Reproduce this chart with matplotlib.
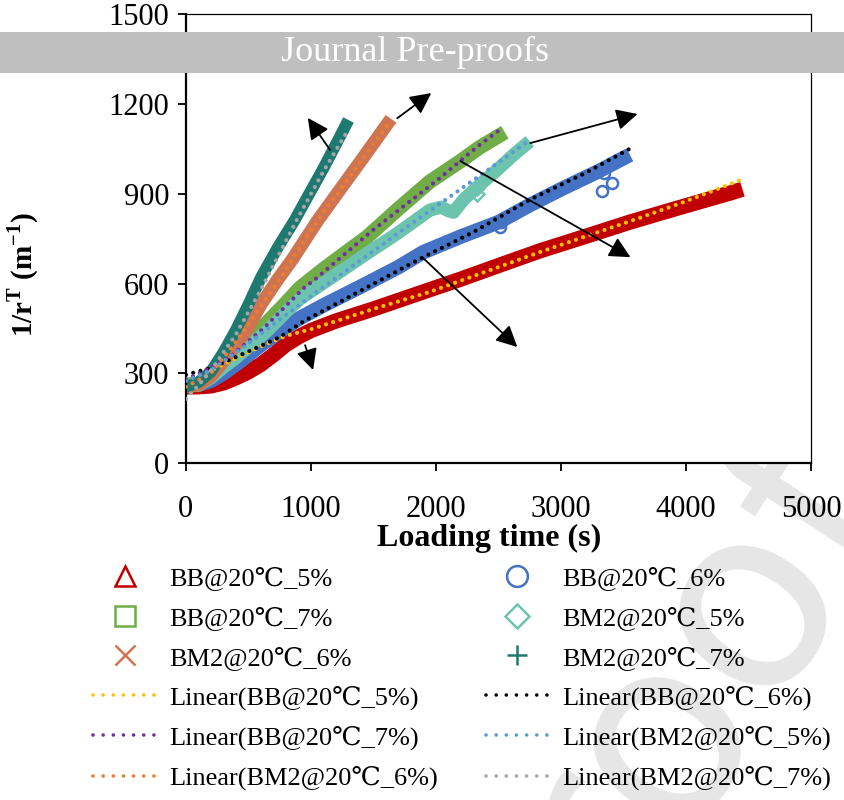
import numpy as np
import matplotlib
matplotlib.use('Agg')
import matplotlib.pyplot as plt
from matplotlib.lines import Line2D
from matplotlib.patches import Rectangle

plt.rcParams['font.family'] = ['Liberation Serif', 'DejaVu Serif']
plt.rcParams['mathtext.fontset'] = 'custom'
plt.rcParams['mathtext.rm'] = 'Liberation Serif'
plt.rcParams['mathtext.bf'] = 'Liberation Serif:bold'

# measured series (loading time s, 1/r^T m^-1)
bb5_t = [0, 100, 200, 300, 400, 500, 600, 700, 800, 900, 1000, 1200, 1500, 1870, 2200, 2500, 2830, 3200, 3550, 3900, 4350, 4450]
bb5_v = [255, 255, 258, 268, 285, 305, 330, 362, 396, 422, 443, 475, 515, 568, 615, 660, 709, 758, 805, 848, 902, 915]

bb6_t = [0, 100, 200, 300, 400, 500, 600, 750, 900, 1100, 1400, 1700, 1900, 2200, 2500, 2750, 3000, 3300, 3550]
bb6_v = [262, 262, 275, 300, 330, 362, 395, 440, 482, 527, 590, 655, 705, 757, 805, 862, 915, 975, 1030]
bb6_out_t = [2510, 2520, 3330, 3340, 3410]
bb6_out_v = [790, 805, 909, 969, 935]

bb7_t = [0, 100, 200, 300, 400, 500, 650, 800, 910, 1100, 1300, 1450, 1700, 1950, 2200, 2350, 2550]
bb7_v = [260, 262, 290, 330, 368, 405, 470, 535, 585, 648, 710, 756, 850, 940, 1010, 1055, 1105]

bm5_t = [0, 100, 200, 300, 400, 500, 650, 800, 910, 1200, 1450, 1700, 1950, 2040, 2100, 2140, 2220, 2350, 2490, 2620, 2750]
bm5_v = [258, 262, 285, 320, 352, 388, 442, 505, 548, 630, 701, 770, 845, 855, 843, 838, 880, 930, 980, 1030, 1075]
bm5_out_t = [2325, 2330]
bm5_out_v = [900, 918]

bm6_t = [0, 100, 200, 300, 400, 500, 600, 730, 850, 1050, 1200, 1400, 1640]
bm6_v = [255, 262, 290, 340, 395, 455, 530, 611, 680, 808, 895, 1010, 1150]

bm7_t = [0, 100, 200, 300, 400, 500, 600, 730, 870, 1000, 1100, 1200, 1300]
bm7_v = [255, 270, 305, 370, 445, 530, 620, 717, 812, 910, 985, 1065, 1146]

# trend lines
fit_bb5_t = [0, 200, 400, 620, 800, 1020, 1500, 1950, 2500, 2830, 3200, 3600, 4000, 4450]
fit_bb5_v = [280, 310, 350, 394, 425, 450, 515, 572, 655, 705, 758, 815, 875, 948]
fit_bb6_t = [0, 220, 490, 750, 950, 1290, 1870, 2300, 2750, 3200, 3550]
fit_bb6_v = [295, 321, 371, 421, 476, 552, 682, 772, 880, 970, 1050]
fit_bb7_t = [0, 110, 350, 620, 940, 1050, 1500, 2010, 2330, 2500]
fit_bb7_v = [280, 300, 355, 450, 584, 620, 780, 945, 1057, 1110]
fit_bm5_t = [0, 200, 500, 990, 1710, 2060, 2400, 2730]
fit_bm5_v = [275, 310, 400, 555, 772, 875, 975, 1073]
fit_bm6_t = [0, 200, 400, 600, 750, 1060, 1630]
fit_bm6_v = [255, 300, 405, 525, 615, 815, 1140]
fit_bm7_t = [0, 100, 200, 400, 600, 890, 1100, 1300]
fit_bm7_v = [215, 260, 310, 430, 580, 815, 975, 1115]

# arrows: (start t, start v, tip t, tip v)
arrows = [
    (1153, 1046, 975, 1153),
    (1690, 1152, 1962, 1236),
    (2754, 1069, 3611, 1166),
    (2194, 1009, 3555, 688),
    (1897, 685, 2650, 388),
    (953, 394, 1017, 311),
]

names = ['BB@20℃_5%', 'BB@20℃_6%', 'BB@20℃_7%', 'BM2@20℃_5%', 'BM2@20℃_6%', 'BM2@20℃_7%']
colors = ['#C00000', '#4472C4', '#70AD47', '#6CC4AE', '#CF7451', '#1E7A70']
markers = ['^', 'o', 's', 'D', 'x', '+']
band_lw = [11, 10.5, 10.5, 9.5, 9.5, 8.5]
fit_colors = ['#FFC000', '#000000', '#7030A0', '#5B9BD5', '#ED7D31', '#A5A5A5']

series = [(bb5_t, bb5_v), (bb6_t, bb6_v), (bb7_t, bb7_v), (bm5_t, bm5_v), (bm6_t, bm6_v), (bm7_t, bm7_v)]
fits = [(fit_bb5_t, fit_bb5_v), (fit_bb6_t, fit_bb6_v), (fit_bb7_t, fit_bb7_v),
        (fit_bm5_t, fit_bm5_v), (fit_bm6_t, fit_bm6_v), (fit_bm7_t, fit_bm7_v)]

fig = plt.figure(figsize=(8.45, 8.0), dpi=100)
ax = fig.add_axes([0.220, 0.421, 0.740, 0.5615])

for (tt, vv), c, w in zip(series, colors, band_lw):
    ax.plot(tt, vv, color=c, lw=w, solid_capstyle='butt', solid_joinstyle='round', zorder=2)

ax.plot(bb6_out_t, bb6_out_v, ls='none', marker='o', ms=8, mfc='none', mec=colors[1], mew=1.8, zorder=2)
ax.plot(bm5_out_t, bm5_out_v, ls='none', marker='D', ms=7, mfc='none', mec=colors[3], mew=1.8, zorder=2)

dot = (0, (0.01, 1.8))
for (tt, vv), c in zip(fits, fit_colors):
    ax.plot(tt, vv, color=c, lw=3.0, ls=dot, dash_capstyle='round', zorder=3)

for t0, v0, t1, v1 in arrows:
    ax.annotate('', xy=(t1, v1), xytext=(t0, v0),
                arrowprops=dict(arrowstyle='-|>', color='k', lw=1.3, mutation_scale=32,
                                shrinkA=0, shrinkB=0), zorder=4)

ax.set_xlim(0, 5000)
ax.set_ylim(0, 1500)
ax.set_xticks(np.arange(0, 5001, 1000))
ax.set_yticks(np.arange(0, 1501, 300))
ax.tick_params(axis='both', direction='out', length=6, width=1.3, labelsize=22, pad=6)
ax.tick_params(axis='x', pad=17)
for s in ['left', 'bottom']:
    ax.spines[s].set_linewidth(1.6)
for s in ['top', 'right']:
    ax.spines[s].set_linewidth(0.9)

ax.set_xlabel('Loading time (s)', fontsize=23, fontweight='bold', labelpad=1.5)
ax.xaxis.set_label_coords(0.485, -0.135)
ax.set_ylabel(r'1/r$^{\mathbf{T}}$ (m$^{\mathbf{-1}}$)', fontsize=21, fontweight='bold')
ax.yaxis.set_label_coords(-0.232, 0.42)

# legend, filled column by column
marker_handles = []
for c, m in zip(colors, markers):
    ms = 12 if m == 'D' else 15
    marker_handles.append(Line2D([], [], ls='none', marker=m, ms=ms, mfc='none', mec=c, mew=1.8))
fit_handles = [Line2D([], [], color=c, lw=2.6, ls=(0, (0.01, 2.8)), dash_capstyle='round') for c in fit_colors]
fit_labels = ['Linear(' + n + ')' for n in names]
order_h = [marker_handles[0], marker_handles[2], marker_handles[4], fit_handles[0], fit_handles[2], fit_handles[4],
           marker_handles[1], marker_handles[3], marker_handles[5], fit_handles[1], fit_handles[3], fit_handles[5]]
order_l = [names[0], names[2], names[4], fit_labels[0], fit_labels[2], fit_labels[4],
           names[1], names[3], names[5], fit_labels[1], fit_labels[3], fit_labels[5]]
fig.legend(order_h, order_l, ncol=2, loc='upper left', bbox_to_anchor=(93 / 845, 1 - 566 / 800),
           frameon=False, fontsize=19, handlelength=2.4, handletextpad=0.5, columnspacing=1.8,
           labelspacing=0.6, borderpad=0, borderaxespad=0)

# journal banner and watermark
fig.add_artist(Rectangle((0, 1 - 73 / 800), 1, 41 / 800, transform=fig.transFigure,
                         facecolor='#BFBFBF', edgecolor='none', zorder=5))
fig.text(415 / 845, 1 - 52 / 800, 'Journal Pre-proofs', color='white', fontsize=26,
         ha='center', va='center', zorder=6)
fig.text(910 / 845, 1 - 522 / 800, 'Journal Pre-proof', color='#E6E6E6', fontsize=185,
         family='DejaVu Sans', rotation=57, rotation_mode='anchor', ha='right', va='baseline', zorder=-1)

fig.savefig('out.png', dpi=100)
